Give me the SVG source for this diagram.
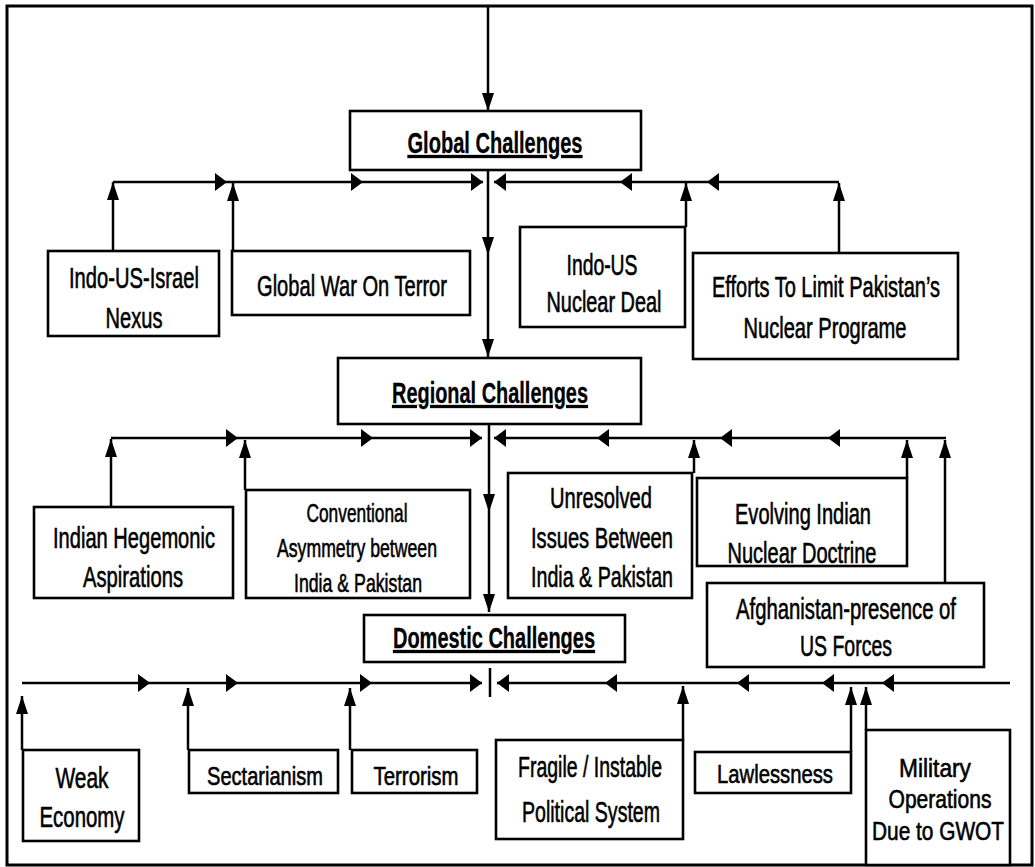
<svg xmlns="http://www.w3.org/2000/svg" width="1035" height="867" viewBox="0 0 1035 867">
<style>
  .frame{fill:none;stroke:#000;stroke-width:3}
  .box{fill:#fff;stroke:#000;stroke-width:2.6}
  .c{stroke:#000;stroke-width:2.5;fill:none}
  .h{marker-end:url(#ah)}
  .v{marker-end:url(#av)}
  text{font-family:"Liberation Sans",Arial,sans-serif;font-size:30px;fill:#000;stroke:#000;stroke-width:0.6;text-anchor:middle}
  .title{font-weight:bold;font-size:30px;stroke-width:0.3;text-decoration:underline}
  .sm{font-size:26px}
</style>
<defs>
  <marker id="ah" viewBox="0 0 12 18" markerWidth="12" markerHeight="18" refX="12" refY="9" orient="auto" markerUnits="userSpaceOnUse"><path d="M0,0 L12,9 L0,18 z" fill="#000"/></marker>
  <marker id="av" viewBox="0 0 18 12" markerWidth="18" markerHeight="12" refX="18" refY="6" orient="auto" markerUnits="userSpaceOnUse"><path d="M0,0 L18,6 L0,12 z" fill="#000"/></marker>
</defs>
<rect x="0" y="0" width="1035" height="867" fill="#fff"/>
<rect class="frame" x="7" y="6" width="1025" height="859"/>

<g id="connectors">
  <line class="c v" x1="488" y1="6" x2="488" y2="111"/>
  <line class="c v" x1="488" y1="170" x2="488" y2="255"/>
  <line class="c v" x1="488" y1="255" x2="488" y2="357"/>
  <line class="c h" x1="113" y1="182" x2="227" y2="182"/>
  <line class="c h" x1="227" y1="182" x2="363" y2="182"/>
  <line class="c h" x1="363" y1="182" x2="483" y2="182"/>
  <line class="c h" x1="839" y1="182" x2="707" y2="182"/>
  <line class="c h" x1="707" y1="182" x2="620" y2="182"/>
  <line class="c h" x1="620" y1="182" x2="494" y2="182"/>
  <line class="c v" x1="113" y1="251" x2="113" y2="182"/>
  <line class="c v" x1="233" y1="251" x2="233" y2="183"/>
  <line class="c v" x1="686" y1="227" x2="686" y2="183"/>
  <line class="c v" x1="839" y1="253" x2="839" y2="183"/>

  <line class="c v" x1="489" y1="424" x2="489" y2="512"/>
  <line class="c v" x1="489" y1="512" x2="489" y2="612"/>
  <line class="c h" x1="111" y1="438" x2="238" y2="438"/>
  <line class="c h" x1="238" y1="438" x2="373" y2="438"/>
  <line class="c h" x1="373" y1="438" x2="482" y2="438"/>
  <line class="c h" x1="946" y1="438" x2="828" y2="438"/>
  <line class="c h" x1="828" y1="438" x2="720" y2="438"/>
  <line class="c h" x1="720" y1="438" x2="597" y2="438"/>
  <line class="c h" x1="597" y1="438" x2="494" y2="438"/>
  <line class="c v" x1="111" y1="507" x2="111" y2="439"/>
  <line class="c v" x1="245" y1="490" x2="245" y2="440"/>
  <line class="c v" x1="694" y1="473" x2="694" y2="440"/>
  <line class="c v" x1="907" y1="478" x2="907" y2="440"/>
  <line class="c v" x1="945" y1="583" x2="945" y2="440"/>

  <line class="c h" x1="22" y1="683" x2="150" y2="683"/>
  <line class="c h" x1="150" y1="683" x2="238" y2="683"/>
  <line class="c h" x1="238" y1="683" x2="372" y2="683"/>
  <line class="c h" x1="372" y1="683" x2="482" y2="683"/>
  <line class="c" x1="490" y1="668" x2="490" y2="697"/>
  <line class="c h" x1="1010" y1="683" x2="882" y2="683"/>
  <line class="c h" x1="882" y1="683" x2="822" y2="683"/>
  <line class="c h" x1="822" y1="683" x2="737" y2="683"/>
  <line class="c h" x1="737" y1="683" x2="605" y2="683"/>
  <line class="c h" x1="605" y1="683" x2="497" y2="683"/>
  <line class="c v" x1="22" y1="750" x2="22" y2="696"/>
  <line class="c v" x1="188" y1="750" x2="188" y2="688"/>
  <line class="c v" x1="350" y1="750" x2="350" y2="688"/>
  <line class="c v" x1="683" y1="740" x2="683" y2="686"/>
  <line class="c v" x1="851" y1="752" x2="851" y2="687"/>
  <line class="c v" x1="866" y1="730" x2="866" y2="687"/>
</g>

<g id="global">
  <rect class="box" x="350" y="111" width="291" height="59"/>
  <text class="title" x="495" y="153" textLength="175" lengthAdjust="spacingAndGlyphs">Global Challenges</text>
</g>
<g id="indo-us-israel">
  <rect class="box" x="48" y="251" width="171" height="85"/>
  <text x="134" y="288" textLength="130" lengthAdjust="spacingAndGlyphs">Indo-US-Israel</text>
  <text x="134" y="328" textLength="57" lengthAdjust="spacingAndGlyphs">Nexus</text>
</g>
<g id="gwot">
  <rect class="box" x="232" y="251" width="238" height="64"/>
  <text x="352" y="296" textLength="190" lengthAdjust="spacingAndGlyphs">Global War On Terror</text>
</g>
<g id="indo-us-nuclear">
  <rect class="box" x="520" y="227" width="165" height="100"/>
  <text x="602" y="275" textLength="71" lengthAdjust="spacingAndGlyphs">Indo-US</text>
  <text x="604" y="312" textLength="115" lengthAdjust="spacingAndGlyphs">Nuclear Deal</text>
</g>
<g id="efforts">
  <rect class="box" x="693" y="253" width="265" height="106"/>
  <text x="826" y="297" textLength="228" lengthAdjust="spacingAndGlyphs">Efforts To Limit Pakistan’s</text>
  <text x="825" y="338" textLength="163" lengthAdjust="spacingAndGlyphs">Nuclear Programe</text>
</g>

<g id="regional">
  <rect class="box" x="338" y="358" width="303" height="66"/>
  <text class="title" x="490" y="403" textLength="196" lengthAdjust="spacingAndGlyphs">Regional Challenges</text>
</g>
<g id="hegemonic">
  <rect class="box" x="34" y="507" width="199" height="91"/>
  <text x="134" y="548" textLength="162" lengthAdjust="spacingAndGlyphs">Indian Hegemonic</text>
  <text x="133" y="587" textLength="100" lengthAdjust="spacingAndGlyphs">Aspirations</text>
</g>
<g id="conventional">
  <rect class="box" x="246" y="490" width="224" height="108"/>
  <text class="sm" x="357" y="522" textLength="101" lengthAdjust="spacingAndGlyphs">Conventional</text>
  <text class="sm" x="357" y="557" textLength="160" lengthAdjust="spacingAndGlyphs">Asymmetry between</text>
  <text class="sm" x="358" y="592" textLength="128" lengthAdjust="spacingAndGlyphs">India &amp; Pakistan</text>
</g>
<g id="unresolved">
  <rect class="box" x="508" y="473" width="184" height="125"/>
  <text x="601" y="508" textLength="102" lengthAdjust="spacingAndGlyphs">Unresolved</text>
  <text x="602" y="548" textLength="142" lengthAdjust="spacingAndGlyphs">Issues Between</text>
  <text x="602" y="587" textLength="142" lengthAdjust="spacingAndGlyphs">India &amp; Pakistan</text>
</g>
<g id="evolving">
  <rect class="box" x="697" y="478" width="210" height="88"/>
  <text x="803" y="524" textLength="136" lengthAdjust="spacingAndGlyphs">Evolving Indian</text>
  <text x="802" y="563" textLength="149" lengthAdjust="spacingAndGlyphs">Nuclear Doctrine</text>
</g>
<g id="afghanistan">
  <rect class="box" x="707" y="583" width="277" height="84"/>
  <text x="846" y="619" textLength="220" lengthAdjust="spacingAndGlyphs">Afghanistan-presence of</text>
  <text x="846" y="656" textLength="92" lengthAdjust="spacingAndGlyphs">US Forces</text>
</g>

<g id="domestic">
  <rect class="box" x="364" y="615" width="261" height="47"/>
  <text class="title" x="494" y="648" textLength="202" lengthAdjust="spacingAndGlyphs">Domestic Challenges</text>
</g>
<g id="weak-economy">
  <rect class="box" x="23" y="750" width="116" height="91"/>
  <text x="82" y="788" textLength="53" lengthAdjust="spacingAndGlyphs">Weak</text>
  <text x="82" y="827" textLength="85" lengthAdjust="spacingAndGlyphs">Economy</text>
</g>
<g id="sectarianism">
  <rect class="box" x="189" y="750" width="149" height="43"/>
  <text class="sm" x="265" y="785" textLength="116" lengthAdjust="spacingAndGlyphs">Sectarianism</text>
</g>
<g id="terrorism">
  <rect class="box" x="352" y="750" width="125" height="43"/>
  <text class="sm" x="416" y="785" textLength="85" lengthAdjust="spacingAndGlyphs">Terrorism</text>
</g>
<g id="fragile">
  <rect class="box" x="496" y="740" width="187" height="99"/>
  <text x="590" y="777" textLength="144" lengthAdjust="spacingAndGlyphs">Fragile / Instable</text>
  <text x="591" y="822" textLength="138" lengthAdjust="spacingAndGlyphs">Political System</text>
</g>
<g id="lawlessness">
  <rect class="box" x="695" y="752" width="156" height="41"/>
  <text class="sm" x="775" y="783" textLength="116" lengthAdjust="spacingAndGlyphs">Lawlessness</text>
</g>
<g id="military">
  <rect class="box" x="866" y="730" width="144" height="135"/>
  <text class="sm" x="935" y="777" textLength="72" lengthAdjust="spacingAndGlyphs">Military</text>
  <text class="sm" x="940" y="808" textLength="103" lengthAdjust="spacingAndGlyphs">Operations</text>
  <text class="sm" x="938" y="840" textLength="132" lengthAdjust="spacingAndGlyphs">Due to GWOT</text>
</g>
</svg>
